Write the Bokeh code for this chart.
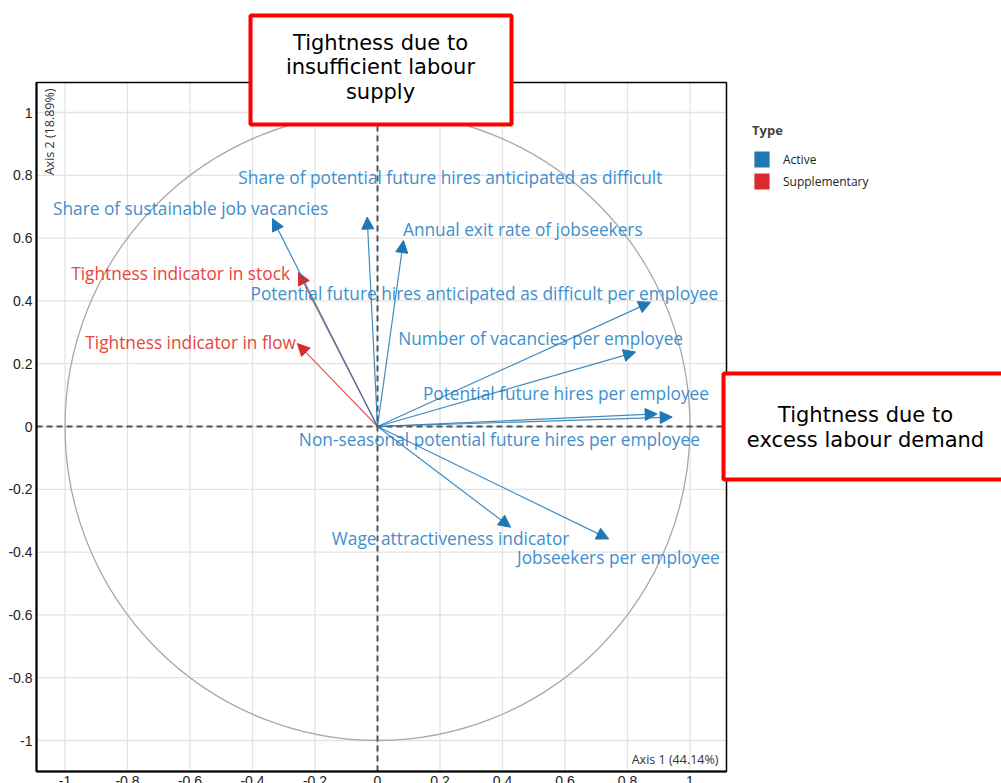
import numpy as np
from bokeh.plotting import figure
from bokeh.models import (ColumnDataSource, Arrow, NormalHead, BoxAnnotation, LinearAxis,
                          Label, Legend, LegendItem, FixedTicker, Range1d)
from bokeh.core.properties import value
from bokeh.embed import file_html
from bokeh.resources import INLINE

# ---- data -------------------------------------------------------------
active_names = [
    "Share of sustainable job vacancies",
    "Share of potential future hires anticipated as difficult",
    "Annual exit rate of jobseekers",
    "Potential future hires anticipated as difficult per employee",
    "Number of vacancies per employee",
    "Potential future hires per employee",
    "Non-seasonal potential future hires per employee",
    "Wage attractiveness indicator",
    "Jobseekers per employee",
]
active_dim1 = [-0.336, -0.033, 0.083, 0.874, 0.826, 0.895, 0.943, 0.426, 0.740]
active_dim2 = [0.662, 0.667, 0.592, 0.396, 0.237, 0.040, 0.030, -0.321, -0.358]
active_label_x = [-0.598, 0.233, 0.465, 0.342, 0.522, 0.603, 0.390, 0.234, 0.771]
active_label_y = [0.694, 0.793, 0.627, 0.424, 0.280, 0.105, -0.041, -0.357, -0.417]

supp_names = ["Tightness indicator in stock", "Tightness indicator in flow"]
supp_dim1 = [-0.253, -0.256]
supp_dim2 = [0.490, 0.264]
supp_label_x = [-0.630, -0.598]
supp_label_y = [0.487, 0.268]

tick_values = [-1, -0.8, -0.6, -0.4, -0.2, 0, 0.2, 0.4, 0.6, 0.8, 1]
tick_labels = ["-1", "-0.8", "-0.6", "-0.4", "-0.2", "0", "0.2", "0.4", "0.6", "0.8", "1"]

axis1_title = "Axis 1 (44.14%)"
axis2_title = "Axis 2 (18.89%)"
legend_title = "Type"
type_names = ["Active", "Supplementary"]
box_supply_text = "Tightness due to\ninsufficient labour\nsupply"
box_demand_text = "Tightness due to\nexcess labour demand"

ACTIVE = "#1f78b4"
SUPP = "#d92a2e"
ACTIVE_TXT = "#3f8fcc"
SUPP_TXT = "#e8453c"

# ---- page layout (pixels of the 1001x783 page) -----------------------
W, H = 1001, 783
OX, OY = 377, 426        # pixel of data origin
SX, SY = 312.5, 314.0    # pixels per data unit


def dx(px):
    return (px - OX) / SX


def dy(py):
    return (OY - py) / SY


# plot box (the visible axes area)
x0, x1 = dx(36), dx(726)
y0, y1 = dy(771), dy(82)

p = figure(width=W, height=H, x_range=Range1d(dx(0), dx(W)), y_range=Range1d(dy(H), dy(0)),
           x_axis_location=None, y_axis_location=None, min_border=0,
           output_backend="svg", toolbar_location=None, background_fill_color="white",
           border_fill_color="white")
p.outline_line_color = None
p.grid.visible = False

# grid lines inside the plot box
p.segment(x0=tick_values, y0=[y0] * len(tick_values), x1=tick_values, y1=[y1] * len(tick_values),
          line_color="#e3e3e3", line_width=1.3)
p.segment(x0=[x0] * len(tick_values), y0=tick_values, x1=[x1] * len(tick_values), y1=tick_values,
          line_color="#e3e3e3", line_width=1.3)

# axes fixed to the plot box edges
xaxis = LinearAxis(fixed_location=y0, bounds=(x0, x1))
yaxis = LinearAxis(fixed_location=x0, bounds=(y0, y1))
for ax in (xaxis, yaxis):
    ax.ticker = FixedTicker(ticks=tick_values)
    ax.major_label_overrides = {v: l for v, l in zip(tick_values, tick_labels)}
    ax.major_tick_out = 0
    ax.major_tick_in = 0
    ax.minor_tick_out = 0
    ax.minor_tick_in = 0
    ax.axis_line_color = "black"
    ax.axis_line_width = 2
    ax.major_label_text_font = "Liberation Sans"
    ax.major_label_text_font_size = "14px"
    ax.major_label_text_color = "#222222"
    ax.major_label_standoff = 4
p.add_layout(xaxis, "below")
p.add_layout(yaxis, "left")

# plot box outline
p.add_layout(BoxAnnotation(left=x0, right=x1, top=y1, bottom=y0, fill_alpha=0,
                           line_color="black", line_alpha=1, line_width=1.5))

# unit circle
p.ellipse(x=[0], y=[0], width=[2], height=[2], fill_color=None,
          line_color="#a8a8a8", line_width=1.3)

# dashed zero lines
p.segment(x0=[0, x0], y0=[y0, 0], x1=[0, x1], y1=[y1, 0], line_color="#555555",
          line_dash="6 4", line_width=2)

# arrows
src_a = ColumnDataSource(dict(xs=[0] * len(active_dim1), ys=[0] * len(active_dim1),
                              xe=active_dim1, ye=active_dim2))
src_s = ColumnDataSource(dict(xs=[0] * len(supp_dim1), ys=[0] * len(supp_dim1),
                              xe=supp_dim1, ye=supp_dim2))
p.add_layout(Arrow(x_start="xs", y_start="ys", x_end="xe", y_end="ye", source=src_s,
                   line_color=SUPP, line_width=1.1, line_alpha=0.8,
                   end=NormalHead(size=12, fill_color=SUPP, line_color=SUPP)))
p.add_layout(Arrow(x_start="xs", y_start="ys", x_end="xe", y_end="ye", source=src_a,
                   line_color=ACTIVE, line_width=1.2, line_alpha=0.85,
                   end=NormalHead(size=12, fill_color=ACTIVE, line_color=ACTIVE)))

# variable labels
lab_a = ColumnDataSource(dict(x=active_label_x, y=active_label_y, t=active_names))
lab_s = ColumnDataSource(dict(x=supp_label_x, y=supp_label_y, t=supp_names))
p.text(x="x", y="y", text="t", source=lab_a, text_align="center", text_baseline="middle",
       text_font=value("Open Sans"), text_font_size="17.3px", text_color=ACTIVE_TXT)
p.text(x="x", y="y", text="t", source=lab_s, text_align="center", text_baseline="middle",
       text_font=value("Open Sans"), text_font_size="17.3px", text_color=SUPP_TXT)

# axis titles inside the plot box
p.add_layout(Label(x=dx(40), y=dy(88), text=axis2_title, angle=np.pi / 2,
                   text_align="right", text_baseline="top", text_font="Open Sans",
                   text_font_size="12.5px", text_color="#333333"))
p.add_layout(Label(x=dx(718), y=dy(767), text=axis1_title,
                   text_align="right", text_baseline="bottom", text_font="Open Sans",
                   text_font_size="12.5px", text_color="#333333"))

# legend (hidden proxy renderers built from the arrow tips, one per type)
ra = p.quad(left=active_dim1, right=active_dim1, top=active_dim2, bottom=active_dim2,
            fill_color=ACTIVE, line_color=None, visible=False)
rs = p.quad(left=supp_dim1, right=supp_dim1, top=supp_dim2, bottom=supp_dim2,
            fill_color=SUPP, line_color=None, visible=False)
legend = Legend(items=[LegendItem(label=type_names[0], renderers=[ra]),
                       LegendItem(label=type_names[1], renderers=[rs])],
                title=legend_title, location=(752, H - 191), padding=0, margin=0, spacing=2,
                glyph_width=19, glyph_height=20, label_standoff=12,
                label_text_font="Open Sans", label_text_font_size="12px",
                label_text_color="#222222", title_text_font="Open Sans",
                title_text_font_style="bold", title_text_font_size="13px",
                title_standoff=10, border_line_color=None, background_fill_alpha=0,
                inactive_fill_alpha=0, click_policy="none")
p.add_layout(legend)

# red annotation boxes
p.add_layout(BoxAnnotation(left=dx(250), right=dx(511), top=dy(15), bottom=dy(124),
                           fill_color="white", fill_alpha=1, line_color="#ff0000",
                           line_alpha=1, line_width=4, level="overlay"))
p.add_layout(Label(x=dx(380), y=dy(67), text=box_supply_text, text_align="center",
                   text_baseline="middle", text_font="DejaVu Sans", text_font_size="21px",
                   text_color="black", text_line_height=1.02, level="overlay"))
p.add_layout(BoxAnnotation(left=dx(723), right=dx(1040), top=dy(373), bottom=dy(479),
                           fill_color="white", fill_alpha=1, line_color="#ff0000",
                           line_alpha=1, line_width=4, level="overlay"))
p.add_layout(Label(x=dx(865), y=dy(427), text=box_demand_text, text_align="center",
                   text_baseline="middle", text_font="DejaVu Sans", text_font_size="21px",
                   text_color="black", text_line_height=1.02, level="overlay"))

open("out.html", "w").write(file_html(p, INLINE))
